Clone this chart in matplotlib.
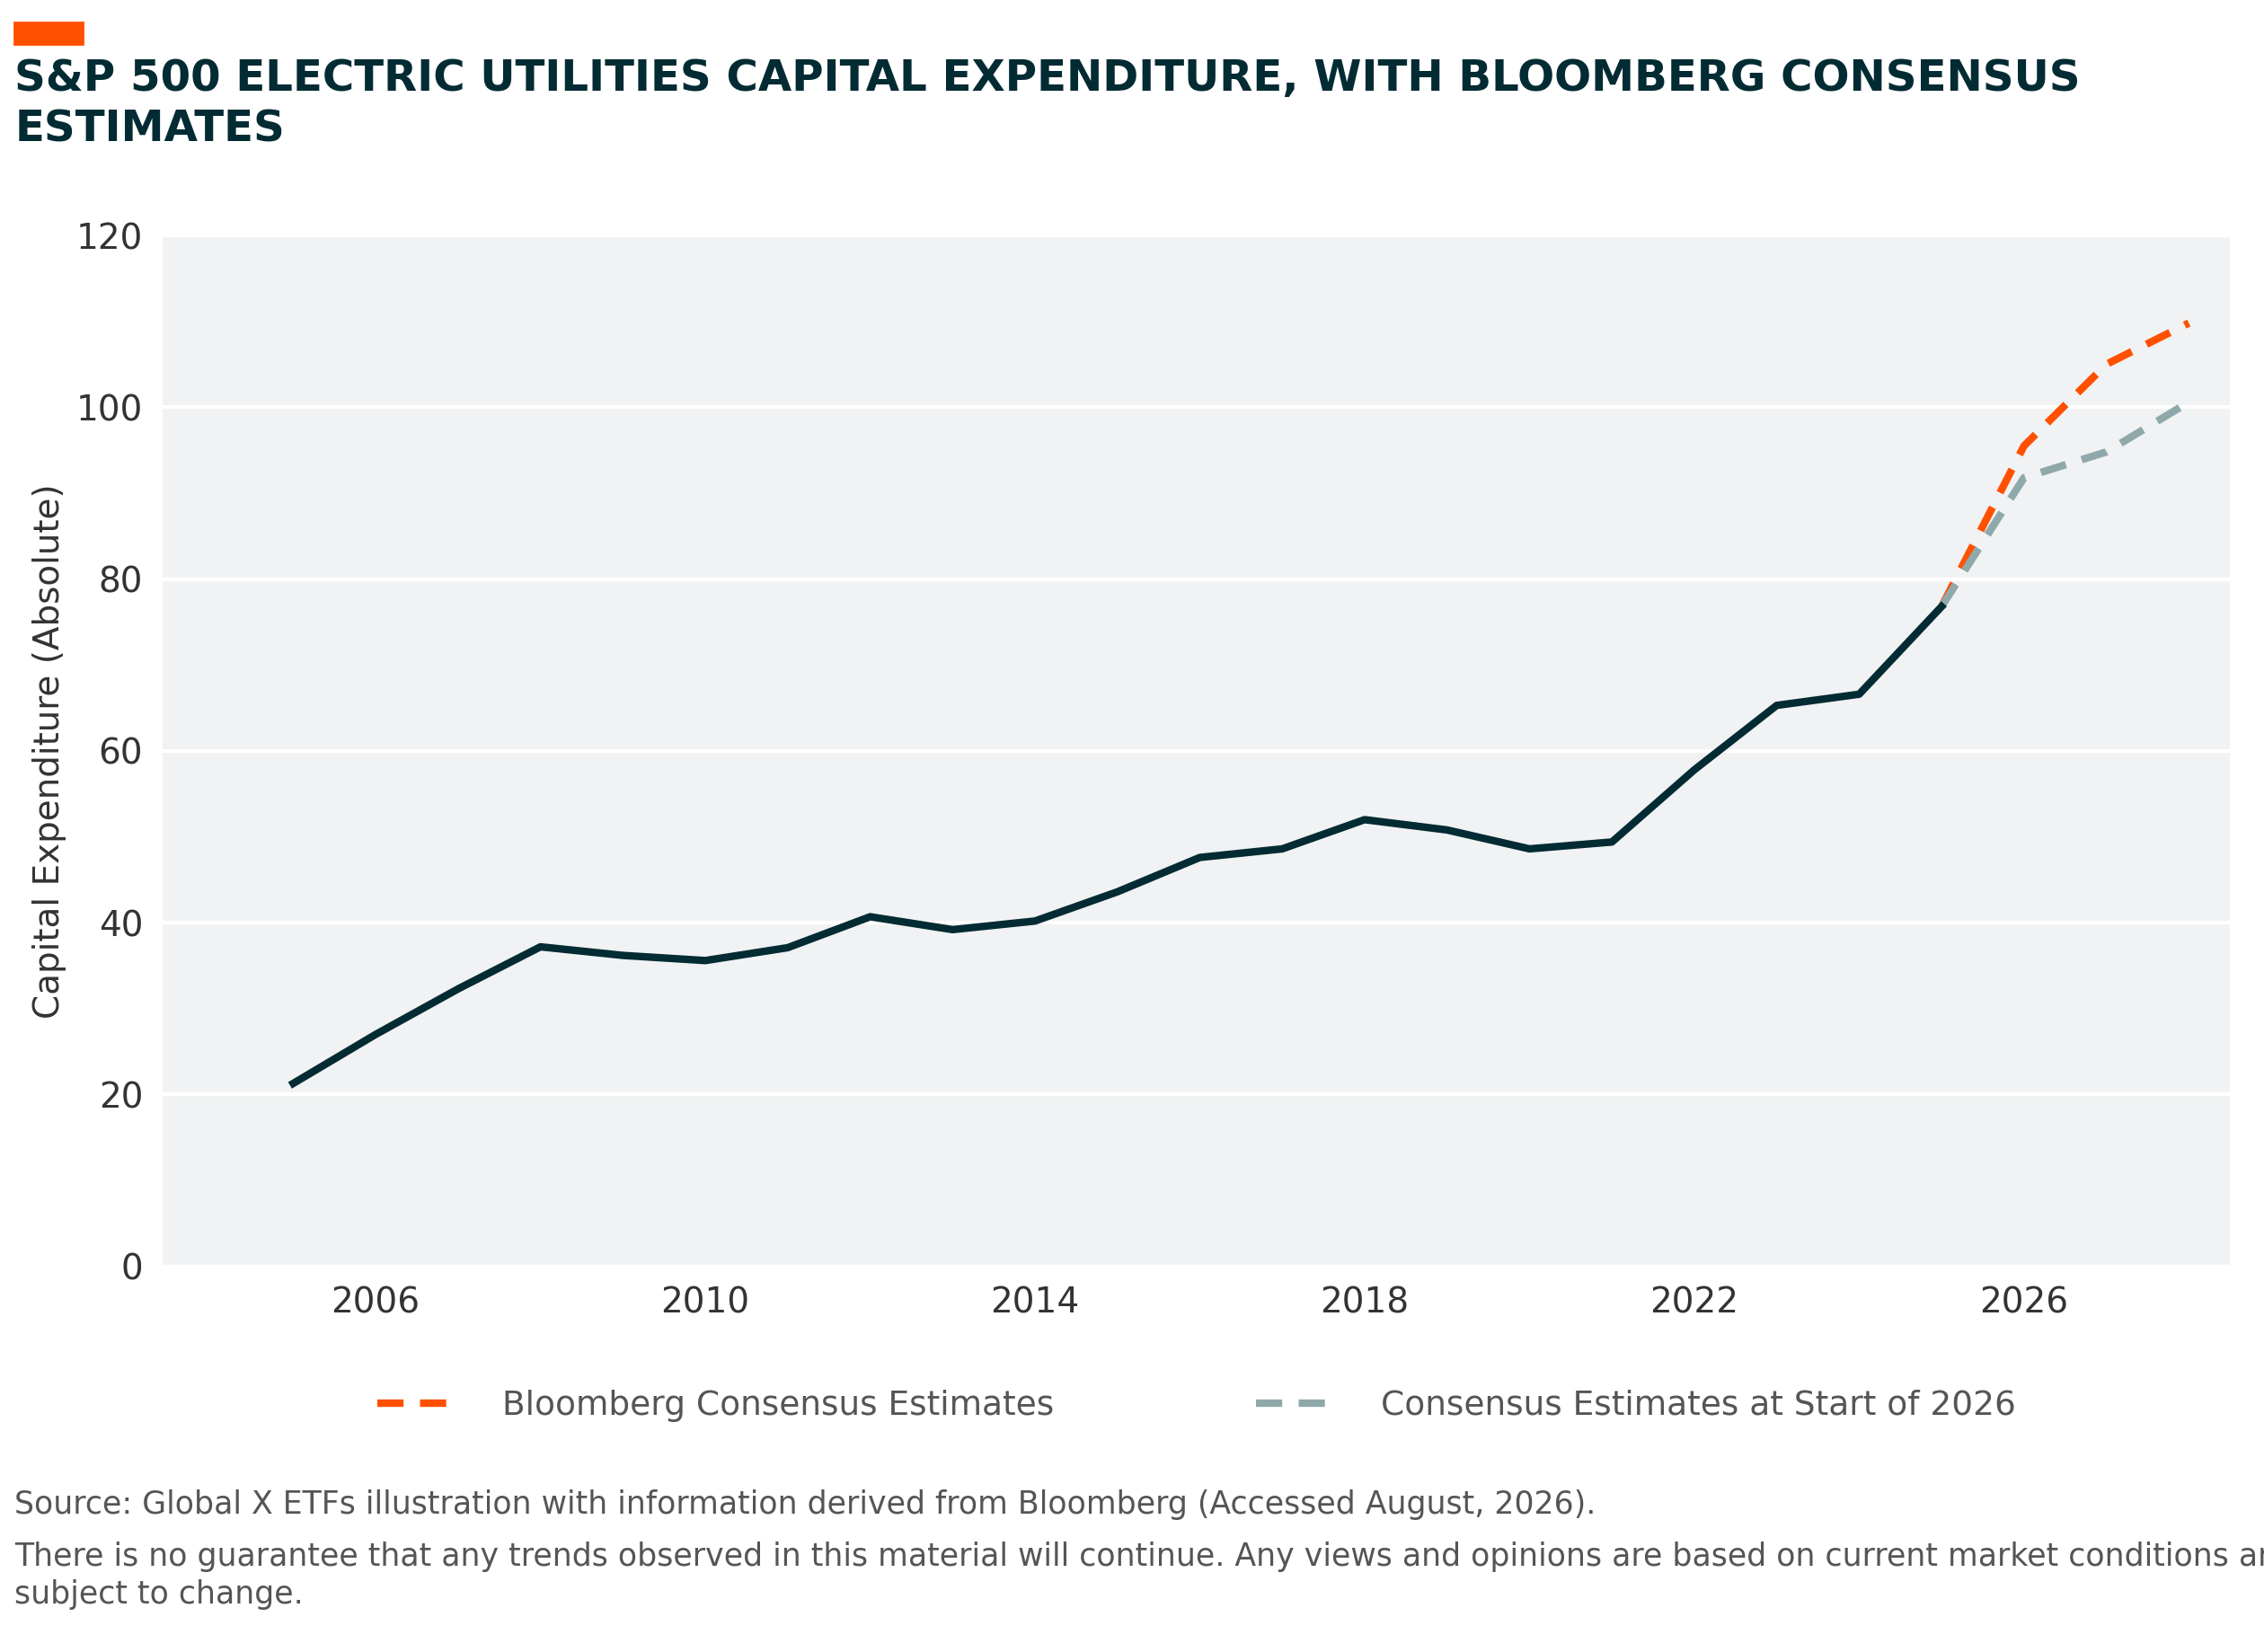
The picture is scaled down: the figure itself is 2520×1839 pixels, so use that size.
import matplotlib.pyplot as plt
from matplotlib.patches import Rectangle

years = list(range(2005, 2026))
capex = [21.3, 27.0, 32.3, 37.2, 36.2, 35.6, 37.1, 40.7, 39.2, 40.2, 43.6,
         47.6, 48.6, 52.0, 50.8, 48.6, 49.4, 57.8, 65.3, 66.6, 76.8]
est_years = [2025, 2026, 2027, 2028]
bbg_est = [76.8, 95.5, 105.0, 109.8]
start_est = [76.8, 91.8, 94.8, 100.6]

DARK = "#032b33"
ORANGE = "#ff5000"
GREY = "#8fa9aa"
TXT = "#333333"

fig = plt.figure(figsize=(12.6, 9.195), dpi=200)
ax = fig.add_axes([0.072, 0.2334, 0.913, 0.6241])
ax.set_facecolor("#f1f2f3")
for s in ax.spines.values():
    s.set_visible(False)
ax.grid(axis="y", color="white", lw=1.5)
ax.set_axisbelow(True)

ax.plot(years, capex, color=DARK, lw=3, zorder=3)
ax.plot(est_years, bbg_est, color=ORANGE, lw=3, ls=(0, (3.5, 2.2)), zorder=2,
        label="Bloomberg Consensus Estimates")
ax.plot(est_years, start_est, color=GREY, lw=3, ls=(0, (3.5, 2.2)), zorder=2,
        label="Consensus Estimates at Start of 2026")

ax.set_xlim(2003.42, 2028.5)
ax.set_ylim(0, 120)
ax.set_xticks([2006, 2010, 2014, 2018, 2022, 2026])
ax.set_yticks(range(0, 121, 20))
ax.tick_params(length=0, labelsize=14, colors=TXT, pad=8)
ax.set_ylabel("Capital Expenditure (Absolute)", fontsize=14, color=TXT)

ax.legend(loc="upper center", bbox_to_anchor=(0.5, -0.09), ncol=2, frameon=False,
          fontsize=13.5, labelcolor="#555555", columnspacing=6, handlelength=2.5,
          handletextpad=1.2)

fig.patches.append(Rectangle((0.0064, 0.9735), 0.03, 0.013, transform=fig.transFigure,
                             color=ORANGE))
fig.text(0.0064, 0.965, "S&P 500 ELECTRIC UTILITIES CAPITAL EXPENDITURE, WITH BLOOMBERG CONSENSUS\nESTIMATES",
         fontsize=17.4, fontweight="bold", color=DARK, va="top", linespacing=1.25)
fig.text(0.0064, 0.089, "Source: Global X ETFs illustration with information derived from Bloomberg (Accessed August, 2026).",
         fontsize=12.5, color="#555555", va="center")
fig.text(0.0064, 0.046, "There is no guarantee that any trends observed in this material will continue. Any views and opinions are based on current market conditions and are\nsubject to change.",
         fontsize=12.5, color="#555555", va="center", linespacing=1.3)

fig.savefig("out.png", dpi=200)
